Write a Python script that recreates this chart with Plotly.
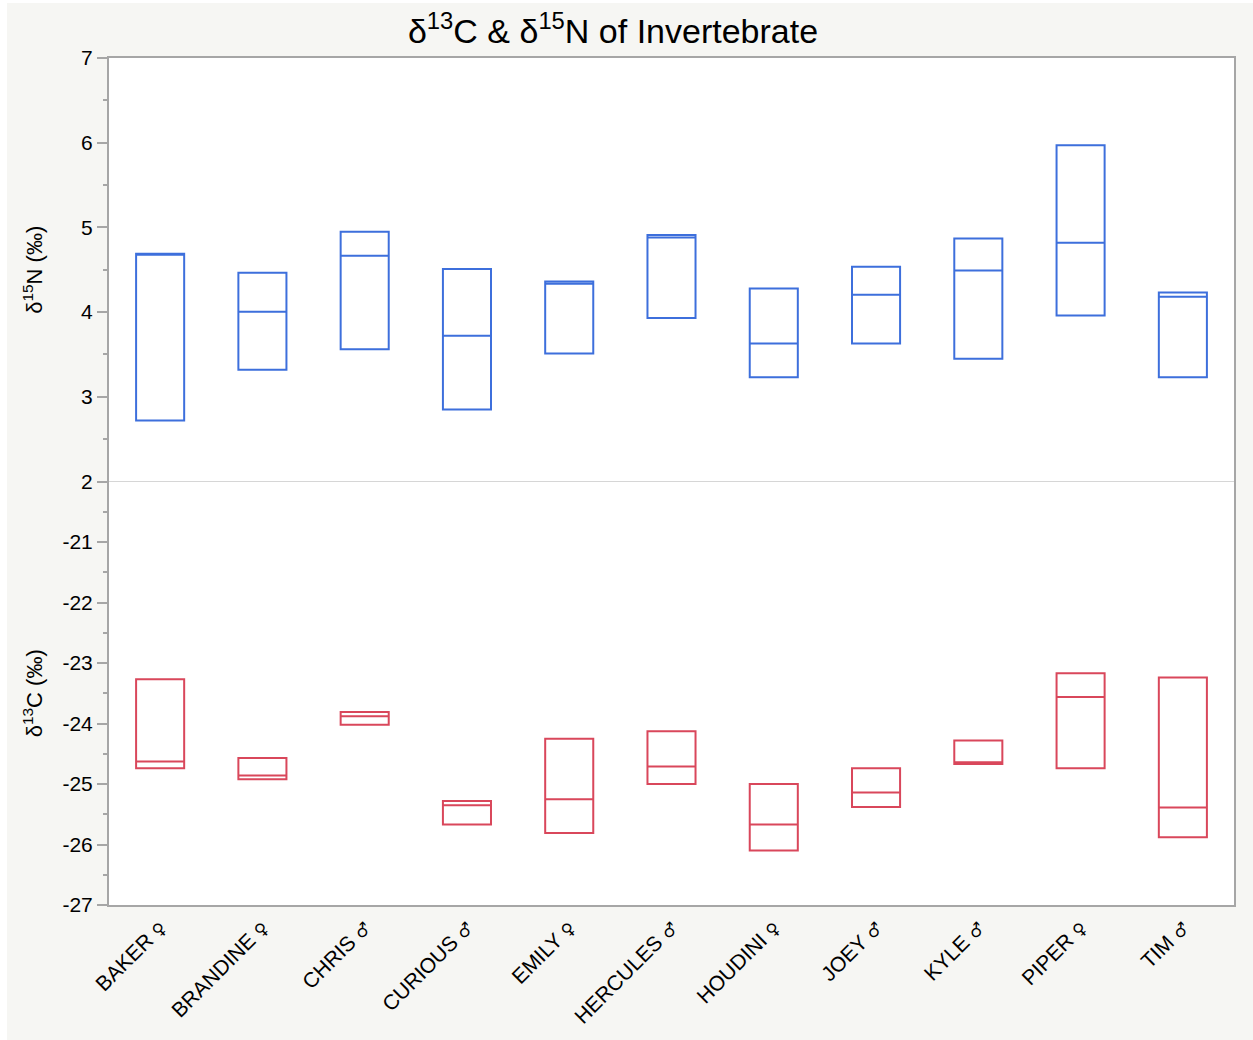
import plotly.graph_objects as go

names = ["BAKER", "BRANDINE", "CHRIS", "CURIOUS", "EMILY", "HERCULES",
         "HOUDINI", "JOEY", "KYLE", "PIPER", "TIM"]
sex = ["♀", "♀", "♂", "♂", "♀", "♂", "♀", "♂", "♂", "♀", "♂"]

# δ15N box statistics (lower edge, middle line, upper edge)
n_low = [2.72, 3.32, 3.56, 2.85, 3.51, 3.93, 3.23, 3.63, 3.45, 3.96, 3.23]
n_mid = [4.69, 4.005, 4.665, 3.72, 4.335, 4.88, 3.63, 4.205, 4.49, 4.82, 4.18]
n_high = [4.69, 4.465, 4.95, 4.51, 4.36, 4.91, 4.28, 4.535, 4.87, 5.97, 4.23]

# δ13C box statistics
c_low = [-24.74, -24.92, -24.02, -25.67, -25.81, -25.00, -26.10, -25.38, -24.67, -24.74, -25.88]
c_mid = [-24.63, -24.86, -23.88, -25.35, -25.25, -24.71, -25.67, -25.14, -24.64, -23.56, -25.39]
c_high = [-23.27, -24.57, -23.81, -25.28, -24.25, -24.13, -25.00, -24.74, -24.28, -23.17, -23.24]

n_ticks = [2, 3, 4, 5, 6, 7]
c_ticks = [-27, -26, -25, -24, -23, -22, -21]
n_ticktext = [str(v) for v in n_ticks]
c_ticktext = [str(v) for v in c_ticks]

labels = [f"{n} <span style='font-family:DejaVu Sans;font-size:17px'>{s}</span>"
          for n, s in zip(names, sex)]

BLUE = "#3d6fdc"
RED = "#d9475b"
GRID = "#a6a6a6"
PANEL = "#f6f6f3"
FONT = "Liberation Sans, Arial, DejaVu Sans, sans-serif"

fig = go.Figure()
fig.add_trace(go.Box(
    x=labels, q1=n_low, median=n_mid, q3=n_high,
    lowerfence=n_low, upperfence=n_high,
    xaxis="x2", yaxis="y",
    line=dict(color=BLUE, width=2), fillcolor="rgba(0,0,0,0)",
    whiskerwidth=0, width=0.47, boxpoints=False, showlegend=False,
))
fig.add_trace(go.Box(
    x=labels, q1=c_low, median=c_mid, q3=c_high,
    lowerfence=c_low, upperfence=c_high,
    xaxis="x", yaxis="y2",
    line=dict(color=RED, width=2), fillcolor="rgba(0,0,0,0)",
    whiskerwidth=0, width=0.47, boxpoints=False, showlegend=False,
))

common_y = dict(
    showline=True, linecolor=GRID, linewidth=2, mirror=True,
    ticks="outside", ticklen=10, tickcolor=GRID, tickwidth=2,
    showgrid=False, zeroline=False,
    tickfont=dict(size=21, color="black", family=FONT),
    minor=dict(ticks="outside", ticklen=4, tickcolor=GRID, tickwidth=2, dtick=0.5),
)

fig.update_layout(
    width=1253, height=1040,
    margin=dict(l=109, r=19, t=58, b=135),
    paper_bgcolor=PANEL, plot_bgcolor="white",
    font=dict(family=FONT, color="black"),
    title=dict(text="δ<sup>13</sup>C & δ<sup>15</sup>N of Invertebrate", x=613 / 1253,
               xanchor="center", xref="container", y=1 - 31 / 1040, yanchor="middle",
               yref="container", font=dict(size=34, family=FONT, color="black")),
    xaxis=dict(domain=[0, 1], anchor="y2", type="category", range=[-0.5, 10.5],
               showline=True, linecolor=GRID, linewidth=2, ticks="",
               showgrid=False, tickangle=-45,
               tickfont=dict(size=21, color="black", family=FONT)),
    xaxis2=dict(domain=[0, 1], anchor="y", matches="x", type="category",
                side="top", showline=True, linecolor=GRID, linewidth=2,
                showticklabels=False, ticks="", showgrid=False),
    yaxis=dict(domain=[0.5, 1], anchor="x2", range=[2, 7], tickvals=n_ticks,
               ticktext=n_ticktext, **common_y),
    yaxis2=dict(domain=[0, 0.5], anchor="x", range=[-27, -20], tickvals=c_ticks,
                ticktext=c_ticktext, **common_y),
    shapes=[
        dict(type="line", xref="paper", yref="paper", x0=0, x1=1, y0=0.5, y1=0.5,
             line=dict(color="#d6d6d6", width=1), layer="above"),
        dict(type="rect", xref="paper", yref="paper",
             x0=-109 / 1125, x1=-102 / 1125, y0=-0.2, y1=1.1,
             fillcolor="white", line=dict(width=0), layer="below"),
        dict(type="rect", xref="paper", yref="paper",
             x0=-0.1, x1=1.1, y0=(905 - 3) / 847, y1=905 / 847,
             fillcolor="white", line=dict(width=0), layer="below"),
    ],
    annotations=[
        dict(text="δ<sup>15</sup>N (‰)", xref="paper", yref="paper",
             x=(33 - 109) / 1125, y=0.75, textangle=-90, showarrow=False,
             xanchor="center", yanchor="middle",
             font=dict(size=22, family=FONT, color="black")),
        dict(text="δ<sup>13</sup>C (‰)", xref="paper", yref="paper",
             x=(33 - 109) / 1125, y=0.25, textangle=-90, showarrow=False,
             xanchor="center", yanchor="middle",
             font=dict(size=22, family=FONT, color="black")),
    ],
)

fig.write_html("out.html")
